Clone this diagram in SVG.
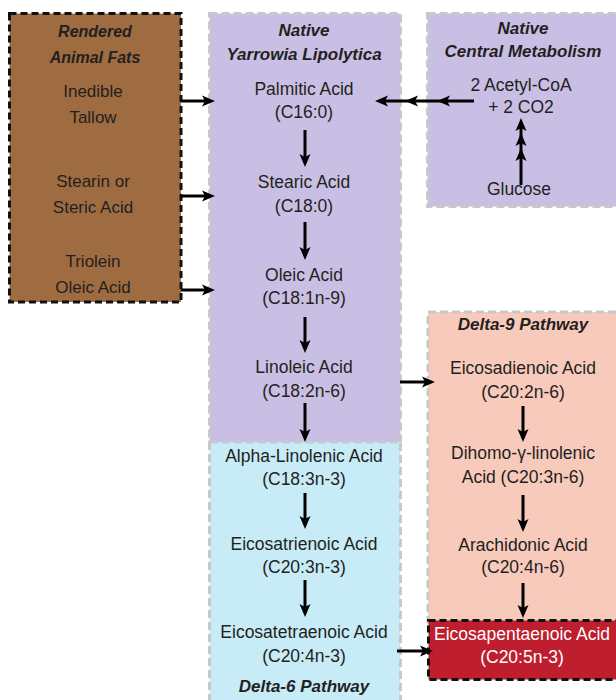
<svg xmlns="http://www.w3.org/2000/svg" width="616" height="700" viewBox="0 0 616 700">
<defs>
<style>
.t{font-family:"Liberation Sans",Arial,sans-serif;font-size:17.5px;fill:#231f20;text-anchor:middle}
.ts{font-size:17px}
.h{font-family:"Liberation Sans",Arial,sans-serif;font-size:17px;font-weight:bold;font-style:italic;fill:#231f20;text-anchor:middle}
.hs{font-size:16px}
.w{fill:#ffffff}
.gb{stroke:#c8c8c8;stroke-width:3;stroke-dasharray:8 4}
.kb{stroke:#111111;stroke-width:3;stroke-dasharray:7 4}
.a{fill:none;stroke:#000;stroke-width:3;marker-end:url(#ah)}
.am{fill:none;stroke:#000;stroke-width:3;marker-mid:url(#ah);marker-end:url(#ah)}
</style>
<marker id="ah" viewBox="0 0 13 12" refX="9" refY="6" markerWidth="13" markerHeight="12" markerUnits="userSpaceOnUse" orient="auto">
<path d="M0,0.5 L13,6 L0,11.5 L3,6 Z" fill="#000"/>
</marker>
</defs>
<rect width="616" height="700" fill="#ffffff"/>

<g id="native-yarrowia">
<rect x="209.5" y="13.5" width="191" height="429" fill="#c9bfe4" class="gb"/>
<text class="h" x="304" y="36">Native</text>
<text class="h" x="304" y="60">Yarrowia Lipolytica</text>
</g>
<g id="delta-6">
<rect x="209.5" y="442" width="191" height="275" fill="#c8ebf8" class="gb"/>
<text class="h" x="304" y="692">Delta-6 Pathway</text>
</g>
<g id="central-metabolism">
<rect x="427.5" y="13.5" width="200" height="193" fill="#c9bfe4" class="gb"/>
<text class="h" x="523" y="34">Native</text>
<text class="h" x="523" y="57">Central Metabolism</text>
</g>
<g id="delta-9">
<rect x="428" y="312" width="200" height="310" fill="#f8cabb" class="gb"/>
<text class="h" x="523" y="330">Delta-9 Pathway</text>
</g>
<g id="animal-fats">
<rect x="9.5" y="13.5" width="171.5" height="288.5" fill="#9e6c40" class="kb"/>
<text class="h hs" x="95" y="37">Rendered</text>
<text class="h hs" x="95" y="63">Animal Fats</text>
</g>

<g id="inedible-tallow"><text class="t ts" x="93" y="97">Inedible</text><text class="t ts" x="93" y="123">Tallow</text></g>
<g id="stearin"><text class="t ts" x="93" y="187">Stearin or</text><text class="t ts" x="93" y="213">Steric Acid</text></g>
<g id="triolein"><text class="t ts" x="93" y="267">Triolein</text><text class="t ts" x="93" y="293">Oleic Acid</text></g>

<g id="palmitic"><text class="t" x="304" y="95">Palmitic Acid</text><text class="t" x="304" y="118">(C16:0)</text></g>
<g id="stearic"><text class="t" x="304" y="188">Stearic Acid</text><text class="t" x="304" y="212">(C18:0)</text></g>
<g id="oleic"><text class="t" x="304" y="281">Oleic Acid</text><text class="t" x="304" y="304">(C18:1n-9)</text></g>
<g id="linoleic"><text class="t" x="304" y="373">Linoleic Acid</text><text class="t" x="304" y="397">(C18:2n-6)</text></g>
<g id="alpha-linolenic"><text class="t" x="304" y="462">Alpha-Linolenic Acid</text><text class="t" x="304" y="485">(C18:3n-3)</text></g>
<g id="eicosatrienoic"><text class="t" x="304" y="550">Eicosatrienoic Acid</text><text class="t" x="304" y="573">(C20:3n-3)</text></g>
<g id="eicosatetraenoic"><text class="t" x="304" y="638">Eicosatetraenoic Acid</text><text class="t" x="304" y="662">(C20:4n-3)</text></g>

<g id="acetyl-coa"><text class="t" x="521" y="91">2 Acetyl-CoA</text><text class="t" x="521" y="113">+ 2 CO2</text></g>
<g id="glucose"><text class="t" x="519" y="195">Glucose</text></g>

<g id="eicosadienoic"><text class="t" x="523" y="374">Eicosadienoic Acid</text><text class="t" x="523" y="398">(C20:2n-6)</text></g>
<g id="dihomo"><text class="t" x="523" y="459">Dihomo-γ-linolenic</text><text class="t" x="523" y="483">Acid (C20:3n-6)</text></g>
<g id="arachidonic"><text class="t" x="523" y="551">Arachidonic Acid</text><text class="t" x="523" y="573">(C20:4n-6)</text></g>
<g id="epa">
<rect x="428.5" y="620.5" width="200" height="59" fill="#be1e2d" class="kb"/>
<text class="t w" x="522" y="640">Eicosapentaenoic Acid</text><text class="t w" x="522" y="663">(C20:5n-3)</text>
</g>

<g id="connectors">
<line class="a" x1="181" y1="101" x2="211" y2="101"/>
<line class="a" x1="181" y1="196" x2="211" y2="196"/>
<line class="a" x1="181" y1="290" x2="211" y2="290"/>
<polyline class="am" points="474,101 441,101 409,101 379,101"/>
<polyline class="am" points="521,185 521,152 521,137 521,122"/>
<line class="a" x1="305" y1="130" x2="305" y2="163"/>
<line class="a" x1="305" y1="222" x2="305" y2="256"/>
<line class="a" x1="305" y1="317" x2="305" y2="349"/>
<line class="a" x1="305" y1="403" x2="305" y2="438"/>
<line class="a" x1="305" y1="493" x2="305" y2="525"/>
<line class="a" x1="305" y1="580" x2="305" y2="613"/>
<line class="a" x1="400" y1="382" x2="431" y2="382"/>
<line class="a" x1="523" y1="406" x2="523" y2="438"/>
<line class="a" x1="523" y1="495" x2="523" y2="528"/>
<line class="a" x1="523" y1="583" x2="523" y2="614"/>
<line class="a" x1="397" y1="651" x2="429" y2="651"/>
</g>
</svg>
